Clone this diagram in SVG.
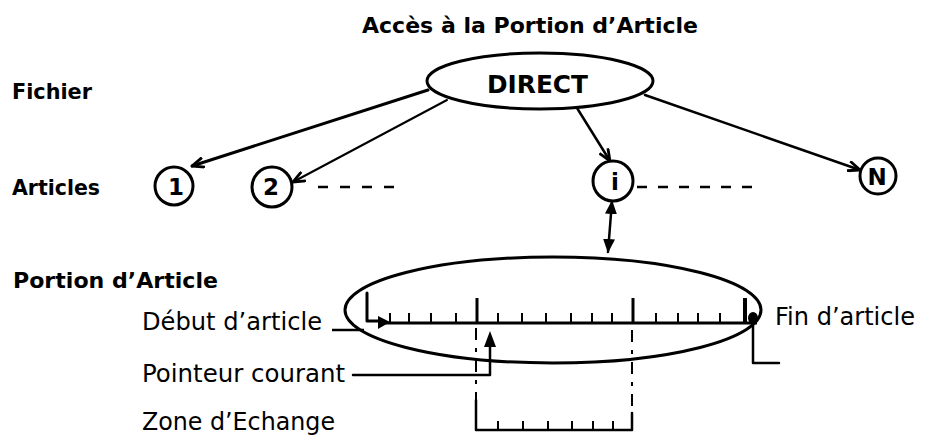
<svg xmlns="http://www.w3.org/2000/svg" width="927" height="437" viewBox="0 0 927 437">
<style>
.b{font-family:"DejaVu Sans","Liberation Sans",sans-serif;font-weight:bold;font-size:21px;fill:#000}
.r{font-family:"DejaVu Sans","Liberation Sans",sans-serif;font-size:24px;fill:#000}
.c{font-family:"DejaVu Sans","Liberation Sans",sans-serif;font-weight:bold;font-size:23px;fill:#000;text-anchor:middle}
.s{fill:none;stroke:#000;stroke-linecap:round;stroke-linejoin:round}
.node{fill:#fff;stroke:#000;stroke-width:3}
.dash{fill:none;stroke:#000;stroke-width:2.5}
.dd{fill:none;stroke:#000;stroke-width:2;stroke-dasharray:12 8 4 8}
.tick{stroke:#000;stroke-width:2}
.maj{stroke:#000;stroke-width:3}
</style>
<defs>
<marker id="av" viewBox="0 0 14 12" refX="13" refY="6" markerWidth="14" markerHeight="12" markerUnits="userSpaceOnUse" orient="auto">
<path d="M1,1 L13,6 L1,11" fill="none" stroke="#000" stroke-width="2.8" stroke-linejoin="miter"/>
</marker>
<marker id="af" viewBox="0 0 14 12" refX="13" refY="6" markerWidth="14" markerHeight="12" markerUnits="userSpaceOnUse" orient="auto-start-reverse">
<path d="M0,0 L14,6 L0,12 Z" fill="#000"/>
</marker>
</defs>
<rect width="927" height="437" fill="#fff"/>

<g id="title"><text class="b" x="362" y="33" style="font-size:22px" textLength="336" lengthAdjust="spacingAndGlyphs">Accès à la Portion d’Article</text></g>
<g id="label-fichier"><text class="b" x="12" y="99" textLength="80" lengthAdjust="spacingAndGlyphs">Fichier</text></g>
<g id="label-articles"><text class="b" x="12" y="195" textLength="88" lengthAdjust="spacingAndGlyphs">Articles</text></g>
<g id="label-portion"><text class="b" x="13" y="288" textLength="205" lengthAdjust="spacingAndGlyphs">Portion d’Article</text></g>

<g id="connectors">
<line class="s" x1="428" y1="90" x2="192" y2="166" stroke-width="3" marker-end="url(#av)"/>
<line class="s" x1="447" y1="100" x2="293" y2="182" stroke-width="2" marker-end="url(#av)"/>
<line class="s" x1="577" y1="108" x2="610" y2="161" stroke-width="2.5" marker-end="url(#av)"/>
<line class="s" x1="645" y1="95" x2="860" y2="170" stroke-width="2.5" marker-end="url(#av)"/>
<line class="s" x1="612" y1="201" x2="608" y2="252" stroke-width="2.5" marker-start="url(#af)" marker-end="url(#af)"/>
<line class="dash" x1="318" y1="187" x2="398" y2="187" stroke-dasharray="10 12"/>
<line class="dash" x1="637" y1="187" x2="757" y2="187" stroke-dasharray="10 11"/>
</g>

<g id="direct">
<ellipse class="node" cx="540" cy="81" rx="113" ry="28"/>
<text class="b" x="487" y="93" style="font-size:24px" textLength="101" lengthAdjust="spacingAndGlyphs">DIRECT</text>
</g>
<g id="article-1"><circle class="node" cx="174" cy="186" r="19"/><text class="c" x="176" y="195">1</text></g>
<g id="article-2"><circle class="node" cx="272" cy="187" r="20"/><text class="c" x="271" y="195">2</text></g>
<g id="article-i"><circle class="node" cx="613" cy="181" r="20"/><text class="c" x="615" y="190">i</text></g>
<g id="article-N"><circle class="node" cx="878" cy="176" r="18"/><text class="c" x="877" y="185">N</text></g>

<g id="portion">
<ellipse cx="553" cy="310" rx="208" ry="53" fill="none" stroke="#000" stroke-width="3"/>
<line x1="385" y1="323" x2="757" y2="323" stroke="#000" stroke-width="3"/>
<path class="s" d="M367,293 V321 H380" stroke-width="3"/>
<path d="M378,316 L390,322 L378,329 Z" fill="#000"/>
<line class="maj" x1="477" y1="298" x2="477" y2="323"/>
<line class="maj" x1="633" y1="298" x2="633" y2="323"/>
<line x1="745" y1="298" x2="745" y2="323" stroke="#000" stroke-width="4"/>
<ellipse cx="753" cy="318" rx="5" ry="6" fill="#000"/>
<g class="tick">
<line x1="390" y1="313" x2="390" y2="323"/><line x1="409" y1="313" x2="409" y2="323"/>
<line x1="431" y1="313" x2="431" y2="323"/><line x1="456" y1="313" x2="456" y2="323"/>
<line x1="498" y1="313" x2="498" y2="323"/><line x1="522" y1="313" x2="522" y2="323"/>
<line x1="546" y1="313" x2="546" y2="323"/><line x1="571" y1="313" x2="571" y2="323"/>
<line x1="592" y1="313" x2="592" y2="323"/><line x1="612" y1="313" x2="612" y2="323"/>
<line x1="656" y1="313" x2="656" y2="323"/><line x1="678" y1="313" x2="678" y2="323"/>
<line x1="698" y1="313" x2="698" y2="323"/><line x1="720" y1="313" x2="720" y2="323"/>
</g>
</g>

<g id="debut-article">
<text class="r" x="142" y="330" textLength="180" lengthAdjust="spacingAndGlyphs">Début d’article</text>
<line x1="332" y1="330" x2="364" y2="330" stroke="#000" stroke-width="2.5"/>
</g>
<g id="fin-article">
<text class="r" x="775" y="325" textLength="140" lengthAdjust="spacingAndGlyphs">Fin d’article</text>
<path class="s" d="M753,323 V363 H779" stroke-width="2.5"/>
</g>
<g id="pointeur-courant">
<text class="r" x="142" y="382" textLength="203" lengthAdjust="spacingAndGlyphs">Pointeur courant</text>
<path class="s" d="M353,375 H490 V344" stroke-width="2.5"/>
<path d="M490,331 L484,347 L496,347 Z" fill="#000"/>
</g>
<g id="zone-echange">
<text class="r" x="142" y="430" textLength="193" lengthAdjust="spacingAndGlyphs">Zone d’Echange</text>
<line class="dd" x1="476" y1="328" x2="476" y2="400"/>
<line class="dd" x1="632" y1="330" x2="632" y2="413"/>
<path class="s" d="M476,400 V430 H632 V413" stroke-width="2.5"/>
<g class="tick">
<line x1="498" y1="421" x2="498" y2="430"/><line x1="523" y1="421" x2="523" y2="430"/>
<line x1="548" y1="421" x2="548" y2="430"/><line x1="572" y1="421" x2="572" y2="430"/>
<line x1="593" y1="421" x2="593" y2="430"/><line x1="613" y1="421" x2="613" y2="430"/>
</g>
</g>
</svg>
